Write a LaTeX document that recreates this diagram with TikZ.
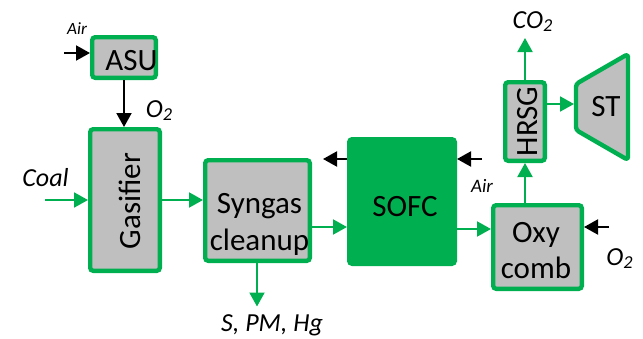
\documentclass[tikz,border=0pt]{standalone}
\usepackage{fontspec}
\setmainfont{Carlito}
\usepackage{xcolor}
\usetikzlibrary{arrows.meta,positioning,calc}
\definecolor{plantgreen}{HTML}{00B050}
\definecolor{plantgray}{HTML}{BFBFBF}
\tikzset{
  unit/.style={draw=plantgreen, fill=plantgray, line width=2.2pt, rounded corners=1.5pt, inner sep=0pt},
  utext/.style={align=center, inner sep=0pt, font=\fontsize{15.5}{18.3}\selectfont},
  flow/.style={-{Triangle[length=7pt,width=7.5pt]}, draw=plantgreen, line width=1pt},
  feed/.style={-{Triangle[length=7pt,width=7.5pt]}, draw=black, line width=1pt},
  lbl/.style={anchor=base, inner sep=0pt, font=\itshape\fontsize{13}{13}\selectfont},
  smalllbl/.style={anchor=base, inner sep=0pt, font=\itshape\fontsize{8.6}{9}\selectfont}
}
\begin{document}
\begin{tikzpicture}[x=0.5pt, y=-0.5pt]
        \useasboundingbox (0,0) rectangle (643,338);

        \node[unit, minimum width=31.8pt, minimum height=20.3pt] (asu) at (124,57.5) {};
        \node[utext] (asu-t) at (131.5,61) {ASU};
        \node[unit, minimum width=34.8pt, minimum height=70.8pt] (gas) at (125,200) {};
        \node[utext, rotate=90] (gas-t) at (130,201) {Gasifier};
        \node[unit, minimum width=52.3pt, minimum height=50.3pt] (syn) at (257.5,210.5) {};
        \node[utext] (syn-t) at (259.5,224.5) {Syngas\\cleanup};
        \node[unit, fill=plantgreen, minimum width=52.8pt, minimum height=62.3pt] (sofc) at (402,201.5) {};
        \node[utext] (sofc-t) at (405,207) {SOFC};
        \node[unit, minimum width=44.3pt, minimum height=41.8pt] (oxy) at (537.5,247) {};
        \node[utext] (oxy-t) at (536,250.5) {Oxy\\comb};
        \node[unit, minimum width=19.8pt, minimum height=39.3pt] (hrsg) at (525,121.5) {};
        \node[utext, rotate=90] (hrsg-t) at (528,121.5) {HRSG};
        \draw[unit, line join=round] (576,84) -- (628,54) -- (628,160) -- (576,130) -- cycle;
        \node[utext] (st) at (606,107) {ST};

        \coordinate (airA) at (64,53);
        \coordinate (coal) at (45,200);
        \coordinate (spm) at (257,306.5);
        \coordinate (anode) at (323,159);
        \coordinate (airB) at (482,159);
        \coordinate (oxB) at (609,227);
        \coordinate (co2) at (525,38);
        \coordinate (stin) at (574,104);

        \draw[feed] (airA) -- (airA -| asu.west);
        \draw[feed] (asu.south) -- (asu.south |- gas.north);
        \draw[flow] (coal) -- (coal -| gas.west);
        \draw[flow] (gas.east) -- (gas.east -| syn.west);
        \draw[flow] (syn.south -| spm) -- (spm);
        \draw[flow] (syn.east |- 0,227) -- (sofc.west |- 0,227);
        \draw[feed] (anode -| sofc.west) -- (anode);
        \draw[feed] (airB) -- (airB -| sofc.east);
        \draw[flow] (sofc.east |- 0,229) -- (oxy.west |- 0,229);
        \draw[feed] (oxB) -- (oxB -| oxy.east);
        \draw[flow] (hrsg.south |- oxy.north) -- (hrsg.south);
        \draw[flow] (hrsg.north) -- (co2);
        \draw[flow] (hrsg.east |- stin) -- (stin);

        \node[smalllbl] (air-l) at (77,34) {Air};
        \node[lbl] (o2-l) at (159.5,117) {O\textsubscript{2}};
        \node[lbl] (coal-l) at (45.5,186) {Coal};
        \node[lbl] (spm-l) at (272,331) {S, PM, Hg};
        \node[smalllbl, font=\itshape\fontsize{9.5}{10}\selectfont] (air2-l) at (482,192.5) {Air};
        \node[lbl] (o2b-l) at (620,265) {O\textsubscript{2}};
        \node[lbl] (co2-l) at (533,28) {CO\textsubscript{2}};
      \end{tikzpicture}
\end{document}
